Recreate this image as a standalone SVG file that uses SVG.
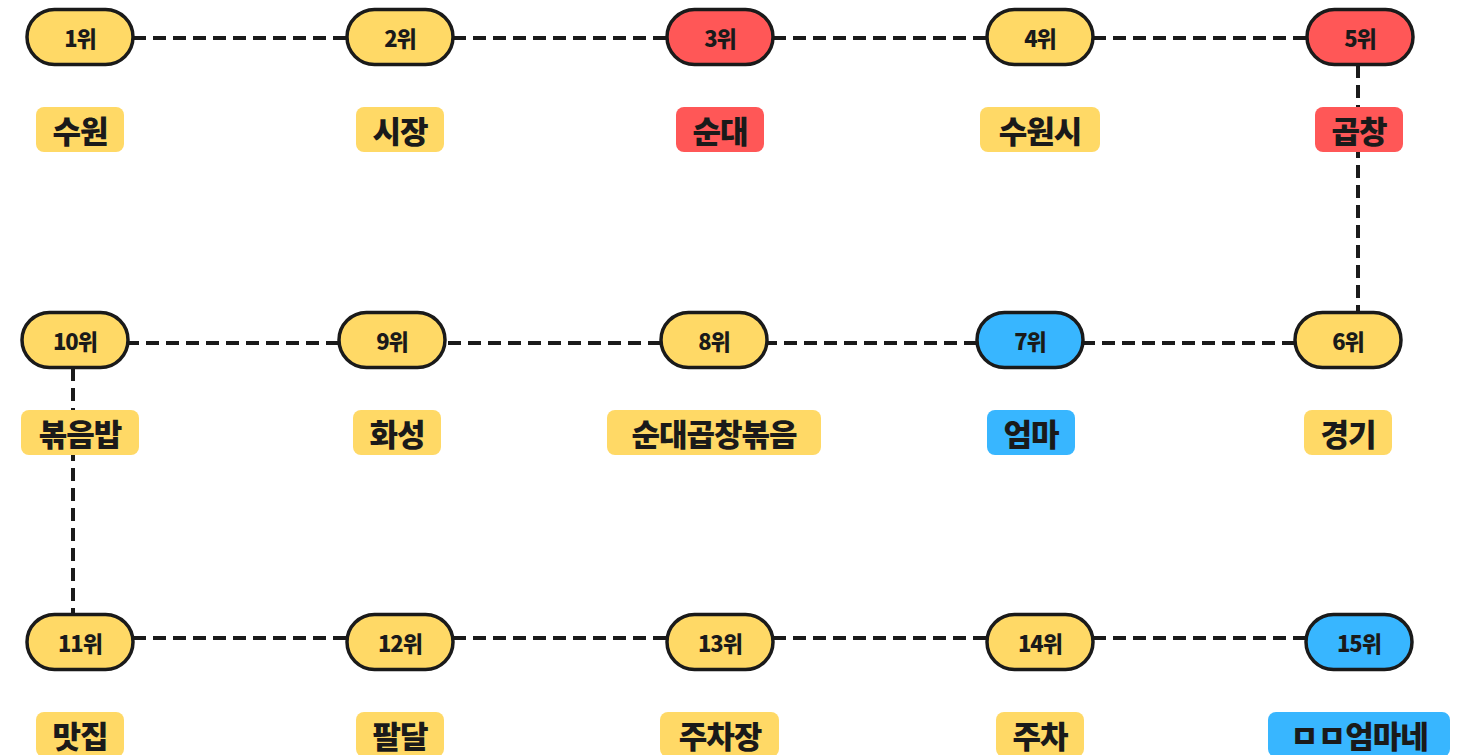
<svg xmlns="http://www.w3.org/2000/svg" width="1464" height="755" viewBox="0 0 1464 755">
  <style>
    .pill { stroke: #1a1a1a; stroke-width: 3.5; }
    .y { fill: #FFD966; }
    .r { fill: #FF5757; }
    .b { fill: #38B6FF; }
    .rank { font-family: "Noto Sans CJK KR", "Noto Sans", sans-serif; font-weight: 900; font-size: 22px; fill: #1a1a1a; text-anchor: middle; dominant-baseline: central; letter-spacing: -1px; }
    .name { font-family: "Noto Sans CJK KR", "Noto Sans", sans-serif; font-weight: 900; font-size: 31px; fill: #1a1a1a; text-anchor: middle; dominant-baseline: central; letter-spacing: -1px; }
    .link { fill: none; stroke: #1a1a1a; stroke-width: 4; stroke-dasharray: 13 7; }
  </style>
  <rect width="1464" height="755" fill="#ffffff"/>

  <!-- dashed route between the ranks -->
  <g id="connectors">
    <line class="link" x1="133" y1="38" x2="347" y2="38"/>
    <line class="link" x1="453" y1="38" x2="667" y2="38"/>
    <line class="link" x1="773" y1="38" x2="987" y2="38"/>
    <line class="link" x1="1093" y1="38" x2="1307" y2="38"/>
    <line class="link" x1="1358" y1="65" x2="1358" y2="312"/>
    <line class="link" x1="1295" y1="343" x2="1083" y2="343"/>
    <line class="link" x1="977" y1="343" x2="767" y2="343"/>
    <line class="link" x1="661" y1="343" x2="445" y2="343"/>
    <line class="link" x1="339" y1="343" x2="128" y2="343"/>
    <line class="link" x1="73" y1="368" x2="73" y2="613"/>
    <line class="link" x1="133" y1="638" x2="347" y2="638"/>
    <line class="link" x1="453" y1="638" x2="667" y2="638"/>
    <line class="link" x1="773" y1="638" x2="987" y2="638"/>
    <line class="link" x1="1093" y1="638" x2="1306" y2="638"/>
  </g>

  <!-- row 1 -->
  <g id="n1"><rect class="pill y" x="27" y="9.5" width="106" height="55" rx="27.5"/><text class="rank" x="80" y="37">1위</text>
    <rect class="y" x="36" y="107" width="88" height="45" rx="8"/><text class="name" x="80" y="129">수원</text></g>
  <g id="n2"><rect class="pill y" x="347" y="9.5" width="106" height="55" rx="27.5"/><text class="rank" x="400" y="37">2위</text>
    <rect class="y" x="356" y="107" width="88" height="45" rx="8"/><text class="name" x="400" y="129">시장</text></g>
  <g id="n3"><rect class="pill r" x="667" y="9.5" width="106" height="55" rx="27.5"/><text class="rank" x="720" y="37">3위</text>
    <rect class="r" x="676" y="107" width="88" height="45" rx="8"/><text class="name" x="720" y="129">순대</text></g>
  <g id="n4"><rect class="pill y" x="987" y="9.5" width="106" height="55" rx="27.5"/><text class="rank" x="1040" y="37">4위</text>
    <rect class="y" x="980" y="107" width="120" height="45" rx="8"/><text class="name" x="1040" y="129">수원시</text></g>
  <g id="n5"><rect class="pill r" x="1307" y="9.5" width="106" height="55" rx="27.5"/><text class="rank" x="1360" y="37">5위</text>
    <rect class="r" x="1315" y="107" width="88" height="45" rx="8"/><text class="name" x="1359" y="129">곱창</text></g>

  <!-- row 2 -->
  <g id="n6"><rect class="pill y" x="1295" y="312.5" width="106" height="55" rx="27.5"/><text class="rank" x="1348" y="340">6위</text>
    <rect class="y" x="1304" y="410" width="88" height="45" rx="8"/><text class="name" x="1348" y="432">경기</text></g>
  <g id="n7"><rect class="pill b" x="977" y="312.5" width="106" height="55" rx="27.5"/><text class="rank" x="1030" y="340">7위</text>
    <rect class="b" x="987" y="410" width="88" height="45" rx="8"/><text class="name" x="1031" y="432">엄마</text></g>
  <g id="n8"><rect class="pill y" x="661" y="312.5" width="106" height="55" rx="27.5"/><text class="rank" x="714" y="340">8위</text>
    <rect class="y" x="607" y="410" width="214" height="45" rx="8"/><text class="name" x="714" y="432">순대곱창볶음</text></g>
  <g id="n9"><rect class="pill y" x="339" y="312.5" width="106" height="55" rx="27.5"/><text class="rank" x="392" y="340">9위</text>
    <rect class="y" x="353" y="410" width="88" height="45" rx="8"/><text class="name" x="397" y="432">화성</text></g>
  <g id="n10"><rect class="pill y" x="22" y="312.5" width="106" height="55" rx="27.5"/><text class="rank" x="75" y="340">10위</text>
    <rect class="y" x="21" y="410" width="118" height="45" rx="8"/><text class="name" x="80" y="432">볶음밥</text></g>

  <!-- row 3 -->
  <g id="n11"><rect class="pill y" x="27" y="614.5" width="106" height="55" rx="27.5"/><text class="rank" x="80" y="642">11위</text>
    <rect class="y" x="36" y="712" width="88" height="45" rx="8"/><text class="name" x="80" y="734">맛집</text></g>
  <g id="n12"><rect class="pill y" x="347" y="614.5" width="106" height="55" rx="27.5"/><text class="rank" x="400" y="642">12위</text>
    <rect class="y" x="356" y="712" width="88" height="45" rx="8"/><text class="name" x="400" y="734">팔달</text></g>
  <g id="n13"><rect class="pill y" x="667" y="614.5" width="106" height="55" rx="27.5"/><text class="rank" x="720" y="642">13위</text>
    <rect class="y" x="660" y="712" width="119" height="45" rx="8"/><text class="name" x="720" y="734">주차장</text></g>
  <g id="n14"><rect class="pill y" x="987" y="614.5" width="106" height="55" rx="27.5"/><text class="rank" x="1040" y="642">14위</text>
    <rect class="y" x="996" y="712" width="88" height="45" rx="8"/><text class="name" x="1040" y="734">주차</text></g>
  <g id="n15"><rect class="pill b" x="1306" y="614.5" width="106" height="55" rx="27.5"/><text class="rank" x="1359" y="642">15위</text>
    <rect class="b" x="1268" y="712" width="182" height="45" rx="8"/><text class="name" x="1359" y="734">ㅁㅁ엄마네</text></g>
</svg>
